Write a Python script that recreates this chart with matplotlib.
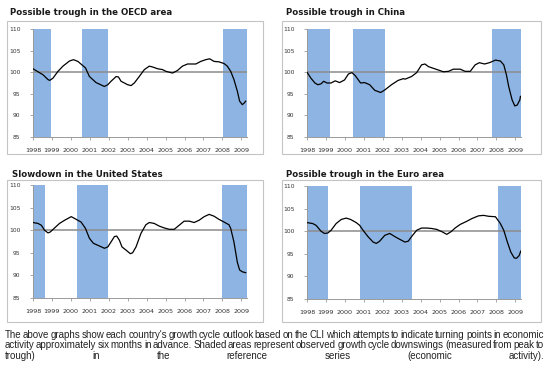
import numpy as np
import matplotlib
matplotlib.use("Agg")
import matplotlib.pyplot as plt
from matplotlib.patches import Rectangle

## CLI growth cycle panels
years = [1998, 1999, 2000, 2001, 2002, 2003, 2004, 2005, 2006, 2007, 2008, 2009]

oecd_x = [1998.00, 1998.53, 1998.79, 1998.88, 1999.05, 1999.32, 1999.58, 1999.93, 2000.14, 2000.37,
          2000.77, 2000.98, 2001.33, 2001.77, 2001.95, 2002.12, 2002.39, 2002.51, 2002.65, 2003.00,
          2003.18, 2003.35, 2003.61, 2003.88, 2004.14, 2004.32, 2004.58, 2004.84, 2005.02, 2005.37,
          2005.63, 2005.89, 2006.16, 2006.60, 2006.86, 2007.12, 2007.33, 2007.56, 2007.82, 2008.09,
          2008.26, 2008.44, 2008.61, 2008.79, 2008.91, 2009.05, 2009.14, 2009.23]
oecd_y = [100.8, 99.4, 98.3, 98.1, 98.6, 100.2, 101.4, 102.6, 102.9, 102.5,
          101.0, 99.0, 97.6, 96.7, 97.1, 97.9, 99.0, 98.9, 97.9, 97.1,
          96.9, 97.5, 99.0, 100.6, 101.4, 101.2, 100.8, 100.6, 100.2, 99.8,
          100.4, 101.4, 101.9, 101.9, 102.5, 102.9, 103.1, 102.5, 102.4, 102.0,
          101.4, 100.2, 98.3, 95.6, 93.3, 92.5, 92.8, 93.3]
oecd_shade = [(1998.0, 1998.97), (2000.6, 2001.95), (2008.05, 2009.3)]

china_x = [1998.00, 1998.21, 1998.42, 1998.57, 1998.74, 1998.88, 1999.06, 1999.27, 1999.49, 1999.72,
           1999.98, 2000.19, 2000.37, 2000.55, 2000.83, 2001.04, 2001.31, 2001.58, 2001.89, 2002.11,
           2002.46, 2002.81, 2003.08, 2003.19, 2003.52, 2003.79, 2004.05, 2004.23, 2004.41, 2004.67,
           2004.94, 2005.20, 2005.47, 2005.73, 2006.09, 2006.35, 2006.62, 2006.88, 2007.10, 2007.38,
           2007.63, 2007.95, 2008.21, 2008.39, 2008.53, 2008.65, 2008.83, 2008.97, 2009.10, 2009.24,
           2009.27]
china_y = [100.0, 98.6, 97.5, 97.1, 97.3, 97.9, 97.5, 97.5, 98.0, 97.6,
           98.2, 99.6, 99.9, 99.2, 97.5, 97.6, 97.1, 95.8, 95.3, 95.9,
           97.1, 98.1, 98.5, 98.4, 99.0, 99.9, 101.7, 101.9, 101.3, 100.9,
           100.5, 100.1, 100.2, 100.7, 100.7, 100.2, 100.2, 101.7, 102.2, 101.9,
           102.2, 102.8, 102.6, 101.7, 99.4, 96.7, 93.6, 92.2, 92.4, 93.6,
           94.4]
china_shade = [(1998.0, 1999.19), (2000.44, 2002.11), (2007.77, 2009.3)]

us_x = [1998.00, 1998.26, 1998.44, 1998.61, 1998.79, 1998.91, 1999.14, 1999.40, 1999.67, 2000.02,
        2000.28, 2000.54, 2000.77, 2000.98, 2001.19, 2001.51, 2001.77, 2001.95, 2002.12, 2002.30,
        2002.42, 2002.56, 2002.70, 2002.91, 2003.14, 2003.26, 2003.44, 2003.70, 2003.96, 2004.14,
        2004.40, 2004.67, 2004.93, 2005.19, 2005.46, 2005.72, 2005.98, 2006.25, 2006.51, 2006.77,
        2007.04, 2007.30, 2007.56, 2007.82, 2008.09, 2008.35, 2008.44, 2008.61, 2008.79, 2008.91,
        2009.05, 2009.23]
us_y = [101.7, 101.5, 101.1, 100.0, 99.4, 99.6, 100.5, 101.5, 102.2, 103.0,
        102.4, 101.8, 100.4, 98.2, 97.1, 96.5, 96.0, 96.3, 97.4, 98.6,
        98.7, 97.8, 96.3, 95.6, 94.8, 95.0, 96.3, 99.3, 101.2, 101.7,
        101.5, 100.9, 100.5, 100.2, 100.2, 101.1, 102.0, 102.0, 101.7, 102.2,
        103.0, 103.5, 103.1, 102.4, 101.8, 101.2, 100.4, 97.4, 92.9, 91.2,
        90.8, 90.6]
us_shade = [(1998.0, 1998.65), (2000.33, 2001.98), (2007.96, 2009.3)]

euro_x = [1998.00, 1998.30, 1998.48, 1998.74, 1998.92, 1999.10, 1999.27, 1999.54, 1999.81, 2000.07,
          2000.30, 2000.60, 2000.78, 2000.96, 2001.22, 2001.49, 2001.66, 2001.84, 2002.11, 2002.37,
          2002.64, 2002.90, 2003.17, 2003.35, 2003.52, 2003.79, 2004.05, 2004.32, 2004.58, 2004.85,
          2005.12, 2005.38, 2005.61, 2005.82, 2006.09, 2006.44, 2006.71, 2007.06, 2007.33, 2007.59,
          2007.95, 2008.21, 2008.39, 2008.58, 2008.76, 2008.94, 2009.06, 2009.20, 2009.29]
euro_y = [101.9, 101.7, 101.3, 100.0, 99.5, 99.6, 100.2, 101.7, 102.6, 102.9,
          102.6, 101.9, 101.3, 100.2, 98.8, 97.6, 97.3, 97.8, 99.1, 99.5,
          98.8, 98.2, 97.6, 97.8, 98.8, 100.2, 100.7, 100.7, 100.6, 100.4,
          99.9, 99.3, 99.9, 100.7, 101.5, 102.2, 102.8, 103.4, 103.5, 103.3,
          103.2, 101.7, 100.2, 97.6, 95.4, 94.1, 94.0, 94.6, 95.6]
euro_shade = [(1998.0, 1999.1), (2000.8, 2003.52), (2008.07, 2009.3)]

caption = ["The above graphs show each country's growth cycle outlook based on the CLI which attempts to indicate turning points in economic",
           "activity approximately six months in advance. Shaded areas represent observed growth cycle downswings (measured from peak to",
           "trough) in the reference series (economic activity)."]

W, H = 550, 365
SHADE = "#8db4e2"
fig = plt.figure(figsize=(W / 100, H / 100), dpi=100)
fig.patch.set_facecolor("white")


def box(x0, y0, x1, y1):
    # pixel box (top-left origin) -> figure fractions
    return [x0 / W, 1 - y1 / H, (x1 - x0) / W, (y1 - y0) / H]


def panel(title, tx, ty, frame, axrect, xs, ys, shades):
    fx0, fy0, fx1, fy1 = frame
    fig.add_artist(Rectangle((fx0 / W, 1 - fy1 / H), (fx1 - fx0) / W, (fy1 - fy0) / H,
                             transform=fig.transFigure, fill=False, edgecolor="#c4c4c4", lw=0.8))
    fig.text(tx / W, 1 - ty / H, title, fontsize=6.2, fontweight="bold", color="#1a1a1a",
             ha="left", va="baseline")
    ax = fig.add_axes(box(*axrect))
    for a, b in shades:
        ax.axvspan(a, b, color=SHADE, lw=0, zorder=1)
    ax.axhline(100, color="#8c8c8c", lw=1.1, zorder=2)
    ax.plot(xs, ys, color="black", lw=0.9, zorder=3)
    ax.set_xlim(1998, 2009.3)
    ax.set_ylim(85, 110)
    ax.set_yticks([85, 90, 95, 100, 105, 110])
    ax.set_xticks(years)
    ax.set_xticklabels([str(y) for y in years])
    for s in ["top", "right"]:
        ax.spines[s].set_visible(False)
    for s in ["left", "bottom"]:
        ax.spines[s].set_color("#9a9a9a")
        ax.spines[s].set_linewidth(0.7)
    ax.tick_params(axis="y", length=2, width=0.6, color="#9a9a9a", pad=7, labelsize=4.3, labelcolor="#333333")
    ax.tick_params(axis="x", length=2, width=0.6, color="#9a9a9a", pad=6, labelsize=4.6, labelcolor="#333333")
    ax.set_facecolor("white")
    return ax


panel("Possible trough in the OECD area", 10, 15, (7, 21, 263, 154), (33, 29, 247, 137),
      oecd_x, oecd_y, oecd_shade)
panel("Possible trough in China", 286, 15, (282, 21, 541, 154), (307, 29, 521, 137),
      china_x, china_y, china_shade)
panel("Slowdown in the United States", 12, 177.5, (7, 180, 263, 322), (33, 185, 247, 298),
      us_x, us_y, us_shade)
panel("Possible trough in the Euro area", 286, 177.5, (282, 180, 541, 322), (307, 186, 521, 299),
      euro_x, euro_y, euro_shade)

# justified caption, word by word (widths as figure fractions)
renderer = fig.canvas.get_renderer()
figw = fig.bbox.width
line_y = [337.6, 348.5, 359.3]
left, right = 5 / W, 544 / W
for line, ly in zip(caption, line_y):
    words = line.split()
    texts = [fig.text(left, 1 - ly / H, w, fontsize=7.0, family="Liberation Sans", color="#222222",
                      va="baseline", ha="left")
             for w in words]
    widths = [t.get_window_extent(renderer).width / figw for t in texts]
    gap = (right - left - sum(widths)) / (len(words) - 1)
    x = left
    for t, w in zip(texts, widths):
        t.set_x(x)
        x += w + gap

fig.savefig("out.png", dpi=100)
